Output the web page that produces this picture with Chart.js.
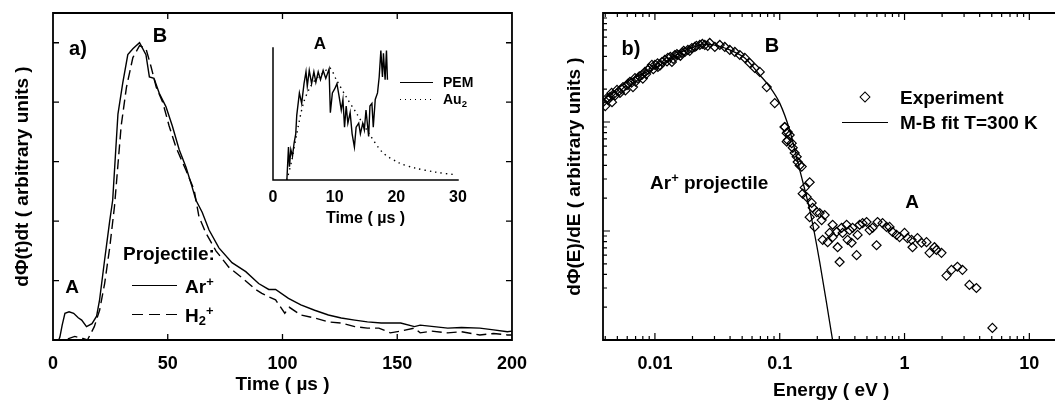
<!DOCTYPE html>
<html><head><meta charset="utf-8">
<script src="https://cdn.jsdelivr.net/npm/chart.js@4.4.1/dist/chart.umd.min.js"></script>
<style>
html,body{margin:0;padding:0;width:1055px;height:402px;overflow:hidden;background:#fff;}
#wrap{position:relative;width:1055px;height:402px;overflow:hidden;font-family:"Liberation Sans",Arial,sans-serif;color:#000;font-weight:bold;}
canvas{position:absolute;}
.t{position:absolute;white-space:nowrap;line-height:1;}
.c{transform:translate(-50%,-50%);}
.l{transform:translate(0,-50%);}
.ln{position:absolute;height:1.4px;}
sup{font-size:68%;vertical-align:0.5em;line-height:0;}
sub{font-size:68%;vertical-align:-0.3em;line-height:0;}
</style></head>
<body><div id="wrap">
<canvas id="cA" width="540" height="402" style="left:0;top:0"></canvas>
<canvas id="cI" width="240" height="200" style="left:240px;top:30px"></canvas>
<canvas id="cB" width="545" height="402" style="left:520px;top:0"></canvas>

<div class="t c" style="left:78px;top:48px;font-size:20px">a)</div>
<div class="t c" style="left:160px;top:35px;font-size:20px">B</div>
<div class="t c" style="left:72px;top:286px;font-size:19px">A</div>
<div class="t l" style="left:123px;top:253px;font-size:19px">Projectile:</div>
<div class="ln" style="left:132px;top:285px;width:45px;background:#000"></div>
<div class="t l" style="left:185px;top:286px;font-size:19px">Ar<sup>+</sup></div>
<div class="ln" style="left:132px;top:314px;width:45px;background:repeating-linear-gradient(to right,#000 0 11px,transparent 11px 17px)"></div>
<div class="t l" style="left:185px;top:315px;font-size:19px">H<sub>2</sub><sup>+</sup></div>

<div class="t c" style="left:320px;top:43px;font-size:17px">A</div>
<div class="ln" style="left:400px;top:82px;width:33px;background:#000"></div>
<div class="t l" style="left:443px;top:82px;font-size:14px">PEM</div>
<div class="ln" style="left:400px;top:99px;width:33px;background:repeating-linear-gradient(to right,#000 0 1.4px,transparent 1.4px 5px)"></div>
<div class="t l" style="left:443px;top:99px;font-size:14px">Au<sub>2</sub></div>

<div class="t c" style="left:631px;top:48px;font-size:20px">b)</div>
<div class="t c" style="left:772px;top:45px;font-size:20px">B</div>
<div class="t l" style="left:650px;top:182px;font-size:19px">Ar<sup>+</sup> projectile</div>
<div style="position:absolute;left:861px;top:93px;width:6px;height:6px;border:1.3px solid #000;transform:rotate(45deg)"></div>
<div class="t l" style="left:900px;top:97px;font-size:19px">Experiment</div>
<div class="ln" style="left:842px;top:122px;width:46px;background:#000"></div>
<div class="t l" style="left:900px;top:122px;font-size:19px">M-B fit T=300 K</div>
<div class="t c" style="left:912px;top:201px;font-size:19px">A</div>
</div>
<script>
// ---------------- DATA ----------------
// Panel a): time-of-flight spectra (time in µs, signal in arbitrary units)
const arTime   = [0,2.5,3,4,5.2,7,9,11,12.5,14.6,17,19,20.3,22.5,24.7,26,28.3,30.4,32.6,34.8,37.7,40.5,42,44,46.3,49.2,52,55,58,60.6,62.3,65,68,72.3,78,84,89.6,94,97,102.6,108,114,120,125.6,131.5,137,143,151.5,157.5,160,166,172,178,186,192,198,200];
const arSignal = [0,0,0.01,0.05,0.09,0.095,0.09,0.075,0.067,0.045,0.055,0.08,0.135,0.27,0.40,0.47,0.76,0.865,0.96,0.98,1.0,0.96,0.885,0.88,0.83,0.785,0.72,0.64,0.58,0.515,0.47,0.43,0.37,0.31,0.26,0.23,0.19,0.17,0.17,0.14,0.118,0.10,0.084,0.074,0.067,0.061,0.057,0.057,0.045,0.05,0.045,0.04,0.042,0.04,0.034,0.028,0.03];
const h2Time   = [0,5,9.5,13,15,18,20.3,22.5,24.7,26.8,29.7,32,34.8,37.7,40.5,42.7,45,47.8,50.6,53.5,58,61.5,63.6,66.6,71,76.6,82.3,88.3,91,94,97,101,103,108,114,120,125.6,131.5,137,142,147,151.5,157.5,160,165,172,178,186,192,198,200];
const h2Signal = [0,0,0.012,0.005,0,0.045,0.10,0.19,0.31,0.45,0.72,0.85,0.95,0.99,0.98,0.92,0.85,0.80,0.72,0.65,0.57,0.505,0.415,0.36,0.30,0.245,0.21,0.17,0.157,0.145,0.135,0.09,0.11,0.084,0.074,0.061,0.057,0.045,0.04,0.04,0.024,0.03,0.04,0.024,0.03,0.024,0.028,0.017,0.022,0.017,0.017];
const xTicksA = [0,50,100,150,200];

// Inset: PEM and Au2 traces (time in µs)
const pemTime   = [2.25,2.51,2.67,2.89,3.16,3.42,3.69,3.85,4.28,4.65,5.03,5.35,5.56,5.88,6.26,6.63,6.95,7.33,7.70,8.13,8.56,9.09,9.30,9.63,10.0,10.37,10.7,11.07,11.34,11.6,11.87,12.14,12.51,12.83,13.2,13.48,13.9,14.17,14.55,14.81,15.08,15.51,15.72,16.04,16.26,16.58,16.95,17.22,17.49,17.75,17.91,18.18,18.4,18.56];
const pemSignal = [0,0.25,0.10,0.23,0.18,0.28,0.35,0.49,0.66,0.58,0.73,0.82,0.71,0.83,0.73,0.82,0.74,0.82,0.76,0.83,0.77,0.84,0.51,0.66,0.69,0.73,0.64,0.53,0.61,0.40,0.56,0.43,0.51,0.35,0.25,0.40,0.43,0.35,0.43,0.38,0.53,0.33,0.56,0.58,0.40,0.61,0.66,0.78,0.98,0.78,0.96,0.76,0.98,0.76];
const au2Time   = [2.25,3.05,3.85,4.92,5.99,7.06,8.13,9.2,10.27,11.87,13.48,15.61,17.75,20.43,23.1,26.3,29.5];
const au2Signal = [0,0.15,0.35,0.58,0.70,0.77,0.81,0.85,0.76,0.63,0.51,0.35,0.21,0.13,0.09,0.06,0.04];
const xTicksInset = [0,10,20,30];

// Panel b): energy distribution (energy in eV, flux in arbitrary units)
const expEnergy = [0.00384,0.00413,0.00437,0.00461,0.00453,0.00497,0.00525,0.00555,0.00597,0.00631,0.00667,0.00692,0.00731,0.00787,0.00832,0.00879,0.00946,0.0100,0.01057,0.01138,0.0120,0.0127,0.01368,0.01445,0.01528,0.01644,0.01738,0.01837,0.01977,0.0209,0.0229,0.0251,0.0275,0.0302,0.0331,0.0363,0.0398,0.0437,0.0479,0.0525,0.0575,0.0631,0.0692,0.0787,0.0912,0.1096,0.1138,0.1159,
  0.0040,0.0042,0.0045,0.0048,0.0051,0.0054,0.0058,0.0061,0.0065,0.0070,0.0075,0.0080,0.0085,0.0090,0.0097,0.0105,0.0110,0.0125,0.0133,0.0140,0.0150,0.0160,0.0170,0.0190,0.0215,0.0240,0.0265,
  0.1096,0.1159,0.1202,0.1138,0.1247,0.1271,0.1318,0.1368,0.1393,0.1445,0.150,0.1585,0.1738,0.1528,0.1644,
  0.1803,0.1837,0.1977,0.2089,0.2291,0.1738,0.1905,0.2168,0.2208,0.2421,0.2512,0.2655,0.2655,0.2858,0.2911,0.302,0.3133,0.3192,0.3436,0.3499,0.3631,0.3767,0.3837,0.413,0.4207,0.4365,0.4613,0.4966,0.5248,0.5546,0.597,0.6081,0.6668,0.7178,0.7586,0.8017,0.863,0.912,1.0,1.057,1.138,1.159,1.27,1.368,1.5,1.585,1.738,1.803,1.977,2.168,2.377,2.655,2.911,3.311,3.767,5.06];
const expFlux = [152,166,170,177,152,197,185,209,218,233,209,253,253,270,288,300,334,334,320,355,371,387,355,412,412,430,439,458,477,488,509,509,531,488,509,488,458,439,412,387,348,313,288,209,149,90,79,68,
  140,160,185,175,190,200,195,225,230,235,262,250,275,310,305,345,330,360,395,380,420,405,450,450,500,520,500,
  90,81,76,66,64,58,52,48,43,40,39,25,28,22,20.5,
  18.1,16.3,14.9,14.6,14.0,13.4,10.9,12.6,8.3,7.9,9.6,11.4,8.8,9.8,7.1,5.2,10.7,9.6,11.4,8.3,10.2,7.8,10.7,6.0,9.2,11.4,11.8,12.1,10.2,10.7,7.4,12.1,11.8,10.9,10.9,9.8,9.2,8.8,9.6,8.6,8.3,7.1,8.6,7.8,7.9,6.3,7.1,6.7,6.3,3.9,4.4,4.7,4.4,3.2,3.0,1.29];
const fitEnergy = [0.00384,0.0063,0.01,0.0158,0.0229,0.0302,0.0398,0.0525,0.0692,0.0832,0.1,0.12,0.145,0.174,0.209,0.265];
const fitFlux   = [159,243,313,430,508,508,458,387,270,210,149,84.5,36,15.6,5.2,1];
const xLabelValsB = [0.01,0.1,1,10];
const xLabelTextB = ['0.01','0.1','1','10'];

// ---------------- HELPERS ----------------
const FONT = 'Liberation Sans';
const pts = (xs, ys) => xs.map((x, i) => ({x, y: ys[i]}));
function isDecade(v){ const l = Math.log10(v); return Math.abs(l - Math.round(l)) < 1e-6; }
function logTicks(min, max){
  const out = [];
  for (let e = Math.floor(Math.log10(min)); e <= Math.ceil(Math.log10(max)); e++)
    for (let k = 1; k <= 9; k++){ const v = +(k * Math.pow(10, e)).toPrecision(6); if (v >= min && v <= max) out.push({value: v}); }
  return out;
}
const frameTicks = {
  id: 'frameTicks',
  afterDatasetsDraw(chart, args, o){
    const ctx = chart.ctx, a = chart.chartArea, s = o.sides;
    ctx.save();
    ctx.strokeStyle = '#000';
    ctx.lineWidth = o.lw;
    ctx.lineCap = 'square';
    ctx.beginPath();
    if (s.includes('b')){ ctx.moveTo(a.left, a.bottom); ctx.lineTo(a.right, a.bottom); }
    if (s.includes('t')){ ctx.moveTo(a.left, a.top); ctx.lineTo(a.right, a.top); }
    if (s.includes('l')){ ctx.moveTo(a.left, a.top); ctx.lineTo(a.left, a.bottom); }
    if (s.includes('r')){ ctx.moveTo(a.right, a.top); ctx.lineTo(a.right, a.bottom); }
    ctx.stroke();
    if (o.ticks){
      ctx.lineCap = 'butt';
      ctx.lineWidth = o.tw;
      ctx.beginPath();
      const xs = chart.scales.x, ys = chart.scales.y;
      const len = (sc, v) => (sc.type === 'logarithmic' && !isDecade(v)) ? o.minor : o.major;
      xs.ticks.forEach(t => {
        const v = t.value; if (v <= xs.min || v >= xs.max) return;
        const p = xs.getPixelForValue(v), L = len(xs, v);
        ctx.moveTo(p, a.bottom); ctx.lineTo(p, a.bottom - L);
        if (s.includes('t')){ ctx.moveTo(p, a.top); ctx.lineTo(p, a.top + L); }
      });
      ys.ticks.forEach(t => {
        const v = t.value; if (v <= ys.min || v >= ys.max) return;
        const p = ys.getPixelForValue(v), L = len(ys, v);
        ctx.moveTo(a.left, p); ctx.lineTo(a.left + L, p);
        if (s.includes('r')){ ctx.moveTo(a.right, p); ctx.lineTo(a.right - L, p); }
      });
      ctx.stroke();
    }
    ctx.restore();
  }
};
const base = {
  responsive: false, animation: false, events: [],
  plugins: {legend: {display: false}, tooltip: {enabled: false}}
};
const tickFont = {family: FONT, size: 18, weight: 'bold'};
const titleFont = {family: FONT, size: 19, weight: 'bold'};
const noGrid = {display: false, drawTicks: false};

// ---------------- PANEL A ----------------
new Chart(document.getElementById('cA'), {
  type: 'line',
  data: {datasets: [
    {data: pts(arTime, arSignal), borderColor: '#000', borderWidth: 1.4, pointRadius: 0, fill: false, tension: 0},
    {data: pts(h2Time, h2Signal), borderColor: '#000', borderWidth: 1.4, borderDash: [10, 5], pointRadius: 0, fill: false, tension: 0}
  ]},
  options: Object.assign({}, base, {
    layout: {padding: {top: 13, right: 25, left: 0, bottom: 0}},
    plugins: Object.assign({}, base.plugins, {frameTicks: {sides: 'lrtb', lw: 1.8, tw: 1.3, ticks: true, major: 6, minor: 3}}),
    scales: {
      x: {type: 'linear', min: 0, max: 200,
          afterBuildTicks: s => { s.ticks = xTicksA.map(v => ({value: v})); },
          afterFit: s => { s.height = 62; },
          grid: noGrid, border: {display: false},
          ticks: {font: tickFont, color: '#000', padding: 13, maxRotation: 0, autoSkip: false},
          title: {display: true, text: 'Time ( µs )', font: titleFont, color: '#000', padding: {top: 0, bottom: 6}}},
      y: {type: 'linear', min: 0, max: 1.1,
          ticks: {display: false, stepSize: 0.2, includeBounds: false},
          afterFit: s => { s.width = 53; },
          grid: noGrid, border: {display: false},
          title: {display: true, text: 'dΦ(t)dt ( arbitrary units )', font: titleFont, color: '#000', padding: {top: 11, bottom: 0}}}
    }
  }),
  plugins: [frameTicks]
});

// ---------------- INSET ----------------
new Chart(document.getElementById('cI'), {
  type: 'line',
  data: {datasets: [
    {data: pts(pemTime, pemSignal), borderColor: '#000', borderWidth: 1.4, pointRadius: 0, fill: false, tension: 0},
    {data: pts(au2Time, au2Signal), borderColor: '#000', borderWidth: 1.4, borderDash: [1.4, 4], pointRadius: 0, fill: false, tension: 0.3}
  ]},
  options: Object.assign({}, base, {
    layout: {padding: {top: 18, right: 22, left: 0, bottom: 0}},
    plugins: Object.assign({}, base.plugins, {frameTicks: {sides: 'lb', lw: 1.5, ticks: false}}),
    scales: {
      x: {type: 'linear', min: 0, max: 30,
          afterBuildTicks: s => { s.ticks = xTicksInset.map(v => ({value: v})); },
          afterFit: s => { s.height = 50; },
          grid: noGrid, border: {display: false},
          ticks: {font: {family: FONT, size: 16, weight: 'bold'}, color: '#000', padding: 8, maxRotation: 0, autoSkip: false},
          title: {display: true, text: 'Time ( µs )', font: {family: FONT, size: 16, weight: 'bold'}, color: '#000', padding: {top: 0, bottom: 2}}},
      y: {type: 'linear', min: 0, max: 1,
          ticks: {display: false},
          afterFit: s => { s.width = 33; },
          grid: noGrid, border: {display: false}}
    }
  }),
  plugins: [frameTicks]
});

// ---------------- PANEL B ----------------
const xMinB = 0.003837, xMaxB = 17.38, yMinB = 1, yMaxB = 1000;
new Chart(document.getElementById('cB'), {
  type: 'scatter',
  data: {datasets: [
    {data: pts(fitEnergy, fitFlux), showLine: true, borderColor: '#000', borderWidth: 1.3, pointRadius: 0, fill: false, tension: 0.3},
    {data: pts(expEnergy, expFlux), pointStyle: 'rectRot', pointRadius: 4.5, borderColor: '#000', borderWidth: 1.2, backgroundColor: 'rgba(255,255,255,0)'}
  ]},
  options: Object.assign({}, base, {
    layout: {padding: {top: 13, right: 5, left: 0, bottom: 0}},
    plugins: Object.assign({}, base.plugins, {frameTicks: {sides: 'ltb', lw: 1.8, tw: 1.2, ticks: true, major: 7, minor: 4}}),
    scales: {
      x: {type: 'logarithmic', min: xMinB, max: xMaxB,
          afterBuildTicks: s => { s.ticks = logTicks(xMinB, xMaxB); },
          afterFit: s => { s.height = 62; },
          grid: noGrid, border: {display: false},
          ticks: {font: tickFont, color: '#000', padding: 13, maxRotation: 0, minRotation: 0, autoSkip: false,
                  callback: v => { const i = xLabelValsB.findIndex(u => Math.abs(u - v) / u < 1e-6); return i >= 0 ? xLabelTextB[i] : ''; }},
          title: {display: true, text: 'Energy ( eV )', font: titleFont, color: '#000', padding: {top: 0, bottom: 0}}},
      y: {type: 'logarithmic', min: yMinB, max: yMaxB,
          afterBuildTicks: s => { s.ticks = logTicks(yMinB, yMaxB); },
          ticks: {display: false},
          afterFit: s => { s.width = 83; },
          grid: noGrid, border: {display: false},
          title: {display: true, text: 'dΦ(E)/dE ( arbitrary units )', font: titleFont, color: '#000', padding: {top: 43, bottom: 0}}}
    }
  }),
  plugins: [frameTicks]
});
</script>
</body></html>
